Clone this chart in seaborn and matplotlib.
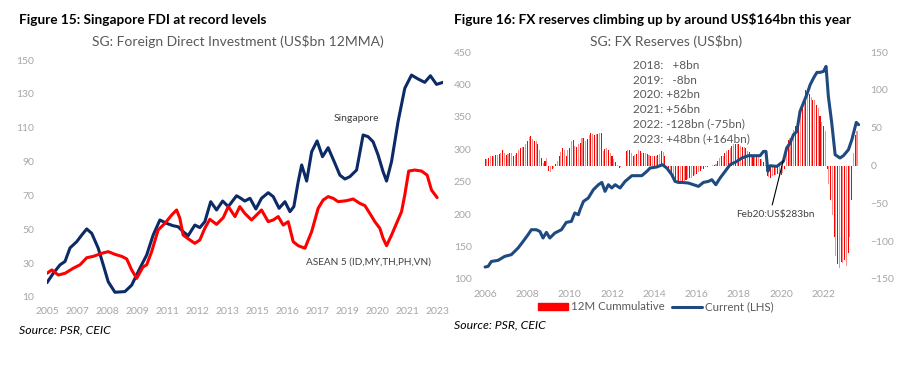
import numpy as np
import pandas as pd
import matplotlib
matplotlib.use('Agg')
import matplotlib.pyplot as plt
from matplotlib.patches import Patch
from matplotlib.lines import Line2D
import seaborn as sns

# ---- Figure 15: FDI (US$bn 12MMA) ----
sg_year = [2005.0, 2005.29, 2005.60, 2005.83, 2006.06, 2006.37, 2006.60, 2006.83, 2007.06, 2007.36,
           2007.59, 2007.82, 2008.13, 2008.59, 2008.90, 2009.28, 2009.59, 2009.89, 2010.20, 2010.51,
           2010.81, 2011.04, 2011.27, 2011.50, 2011.81, 2012.04, 2012.27, 2012.54, 2012.81, 2013.09,
           2013.35, 2013.73, 2013.88, 2014.11, 2014.35, 2014.62, 2014.88, 2015.19, 2015.42, 2015.69,
           2015.96, 2016.19, 2016.37, 2016.57, 2016.73, 2016.96, 2017.19, 2017.44, 2017.69, 2017.95,
           2018.26, 2018.49, 2018.72, 2018.95, 2019.26, 2019.56, 2019.79, 2020.02, 2020.25, 2020.48,
           2020.64, 2020.87, 2021.17, 2021.48, 2021.79, 2022.09, 2022.40, 2022.66, 2022.94, 2023.24]
sg_val = [18.5, 24, 29, 31, 39, 42.7, 46.6, 50.2, 47.6, 38.8,
          29, 19, 12.8, 13.2, 17, 27, 34.8, 46.6, 55.5, 53.5,
          52.1, 51.5, 48.6, 46.2, 52.5, 51, 54.5, 66.3, 61.4, 66.7,
          63.4, 69.8, 68.7, 66.7, 68.3, 62, 68.3, 71.6, 69.3, 62.4,
          66.3, 60.4, 63.4, 78.1, 88, 78.5, 95.8, 102.2, 92.9, 98.2,
          89, 82, 79.7, 81.1, 85, 105.7, 104.7, 101.7, 93.9, 84,
          78.5, 90, 113.6, 133.3, 141.1, 138.8, 136.8, 140.7, 135.6, 136.8]

asean_year = [2005.0, 2005.22, 2005.52, 2005.83, 2006.21, 2006.52, 2006.83, 2007.13, 2007.52, 2007.82,
              2008.13, 2008.44, 2008.67, 2008.90, 2009.13, 2009.42, 2009.59, 2009.82, 2010.12, 2010.43,
              2010.74, 2010.97, 2011.12, 2011.27, 2011.58, 2011.81, 2012.04, 2012.27, 2012.50, 2012.81,
              2013.12, 2013.35, 2013.66, 2013.88, 2014.11, 2014.42, 2014.65, 2014.88, 2015.19, 2015.42,
              2015.65, 2015.88, 2016.11, 2016.34, 2016.57, 2016.88, 2017.19, 2017.49, 2017.72, 2017.95,
              2018.18, 2018.41, 2018.80, 2019.10, 2019.41, 2019.64, 2019.87, 2020.10, 2020.33, 2020.48,
              2020.64, 2020.87, 2021.10, 2021.33, 2021.48, 2021.66, 2021.94, 2022.25, 2022.51, 2022.71,
              2022.97]
asean_val = [24, 26, 23, 24, 27, 29, 33.2, 34, 35.8, 36.8,
             35.2, 34, 32.5, 26, 21, 27.7, 29, 36.8, 49.6, 53.5,
             58.4, 61.4, 56.5, 46.6, 43.7, 41.7, 43.7, 50.6, 55.9, 52.9,
             56.9, 63.4, 57.5, 63.4, 59.4, 55.5, 58.4, 61.4, 54.5, 55.5,
             57.5, 52.5, 54.5, 42.7, 40.3, 38.8, 48.6, 62.4, 67.3, 69.3,
             68.3, 66.3, 66.9, 67.9, 65.3, 64, 59.4, 54.5, 50.6, 44.7,
             40.3, 46.6, 53.5, 60.4, 70.3, 84.4, 85, 84.4, 82, 73.2,
             68.7]

fdi_tick_labels = ['2005', '2007', '2008', '2009', '2011', '2012', '2013',
                   '2015', '2016', '2017', '2019', '2020', '2021', '2023']

# ---- Figure 16: FX reserves (US$bn) ----
fx_year = [2006.0, 2006.14, 2006.30, 2006.61, 2006.93, 2007.24, 2007.56, 2007.80, 2008.03, 2008.19,
           2008.42, 2008.59, 2008.74, 2008.90, 2009.06, 2009.30, 2009.61, 2009.84, 2010.08, 2010.24,
           2010.41, 2010.49, 2010.65, 2010.88, 2011.12, 2011.36, 2011.52, 2011.67, 2011.83, 2011.99,
           2012.15, 2012.38, 2012.62, 2012.94, 2013.17, 2013.41, 2013.65, 2013.80, 2014.12, 2014.38,
           2014.59, 2014.83, 2014.98, 2015.14, 2015.30, 2015.61, 2015.85, 2016.09, 2016.32, 2016.56,
           2016.72, 2016.91, 2017.11, 2017.35, 2017.58, 2017.90, 2018.14, 2018.45, 2018.77, 2019.0,
           2019.16, 2019.28, 2019.37, 2019.48, 2019.79, 2020.10, 2020.26, 2020.42, 2020.58, 2020.74,
           2020.89, 2021.05, 2021.21, 2021.37, 2021.53, 2021.69, 2021.84, 2022.0, 2022.12, 2022.23,
           2022.39, 2022.55, 2022.78, 2022.94, 2023.18, 2023.34, 2023.55, 2023.66]
fx_val = [118.5, 119.4, 127.1, 128.7, 134.9, 137.5, 147.8, 158, 168.3, 176,
          176, 173.4, 163.2, 171.9, 163.2, 170.9, 176, 187.3, 188.8, 201.8,
          199.1, 206.8, 219.6, 224.9, 237.7, 245.4, 248.9, 235.1, 245.4, 240.3,
          245.4, 240.3, 250.5, 259.3, 259.3, 259.3, 266, 271.1, 272.7, 276.2,
          271.1, 260.8, 250.5, 248.9, 248.9, 248, 245.4, 242.8, 248.9, 250.5,
          253.1, 245.4, 255.7, 266, 276.2, 281.3, 286.6, 290.1, 290.1, 290.1,
          296.7, 296.7, 266, 274.7, 273.6, 281.3, 302, 309.7, 322.5, 327.6,
          358.4, 371.4, 384.2, 399.6, 409.9, 418.6, 418.6, 420.1, 427.8, 381.5,
          340.5, 291.6, 286.6, 290.1, 299.4, 314.8, 341.5, 337.9]

# 12M cumulative change, monthly from Jan 2006
fx_chg = [8, 9, 10, 12, 13, 13, 14, 14, 15, 17, 21, 16,
          14, 15, 17, 16, 12, 14, 17, 20, 23, 24, 25, 28,
          32, 38, 39, 35, 33, 32, 28, 20, 10, 3, 6, 10,
          -7, -8, -5, -3, 2, 6, 13, 18, 23, 20, 13, 20,
          23, 32, 34, 26, 25, 28, 30, 37, 36, 32, 35, 40,
          43, 41, 40, 42, 41, 43, 43, 19, 22, 23, 20, 16,
          12, 8, 5, 1, -3, -2, -1, -1, 19, 20, 21, 16,
          13, 14, 15, 21, 19, 17, 16, 16, 15, 14, 13, 12,
          13, 13, 14, 15, 19, 18, 12, -2, -5, -10, -15, -18,
          -21, -22, -23, -25, -24, -21, -19, -18, -17, -16, -14, -12,
          -11, -9, -7, -5, -4, -2, -2, -1, -1, 1, 1, 2,
          6, 10, 12, 13, 17, 19, 21, 23, 26, 29, 28, 28,
          28, 26, 25, 24, 23, 19, 18, 15, 14, 12, 12, 11,
          9, 8, 5, 1, -14, -15, -16, -14, -12, -12, -11, -12,
          -12, -10, -5, 21, 34, 36, 37, 47, 52, 60, 68, 76,
          82, 87, 100, 92, 95, 90, 87, 87, 80, 76, 65, 58,
          52, 45, -5, -25, -45, -65, -95, -120, -130, -135, -127, -129,
          -125, -133, -115, -94, -45, 17, 40, 45]
fx_month = 2006 + np.arange(len(fx_chg)) / 12

fx_notes = ['2018:   +8bn', '2019:   -8bn', '2020: +82bn', '2021: +56bn',
            '2022: -128bn (-75bn)', '2023: +48bn (+164bn)']

NAVY = '#0c2a66'
BLUE = '#1f4a80'
RED = '#ff0000'
GREY_TXT = '#595959'
TICK = '#a6a6a6'

sns.set_theme(style='white')
plt.rcParams['font.family'] = ['Lato', 'DejaVu Sans']

W, H = 913, 376
fig = plt.figure(figsize=(W / 100, H / 100), dpi=100)

def box(x0, y0, x1, y1):
    return [x0 / W, 1 - y1 / H, (x1 - x0) / W, (y1 - y0) / H]

# ---------------- left chart ----------------
ax1 = fig.add_axes(box(47, 60, 443, 297))
sns.lineplot(x=sg_year, y=sg_val, color=NAVY, lw=2.2, ax=ax1)
sns.lineplot(x=asean_year, y=asean_val, color=RED, lw=2.2, ax=ax1)
ax1.set_xlim(2005, 2023.24)
ax1.set_ylim(10, 150)
ax1.set_yticks(range(10, 151, 20))
ax1.set_xticks([2005 + k * 18 / 13 for k in range(len(fdi_tick_labels))])
ax1.set_xticklabels(fdi_tick_labels)
ax1.tick_params(length=0, labelsize=7.5, labelcolor=TICK)
ax1.tick_params(axis='x', pad=7)
ax1.tick_params(axis='y', pad=9)
sns.despine(ax=ax1, left=True, bottom=True)
ax1.text(2019.23, 115.5, 'Singapore', color='#404040', fontsize=7.5, ha='center', va='center')
ax1.text(2019.82, 30.7, 'ASEAN 5 (ID,MY,TH,PH,VN)', color='#404040', fontsize=7.2, ha='center', va='center')

# ---------------- right chart ----------------
ax2 = fig.add_axes(box(480, 52, 862, 279))
ax3 = ax2.twinx()
ax2.set_zorder(ax3.get_zorder() + 1)
ax2.patch.set_visible(False)

bar_cols = [RED if i % 2 == 0 else '#ff8a8a' for i in range(len(fx_chg))]
ax3.bar(fx_month, fx_chg, width=0.05, color=bar_cols, linewidth=0)
sns.lineplot(x=fx_year, y=fx_val, color=BLUE, lw=2.2, ax=ax2)

ax2.set_xlim(2005.76, 2023.82)
ax2.set_ylim(100, 450)
ax3.set_ylim(-150, 150)
ax2.set_yticks(range(100, 451, 50))
ax3.set_yticks(range(-150, 151, 50))
ax2.set_xticks(range(2006, 2023, 2))
for a in (ax2, ax3):
    a.tick_params(length=0, labelsize=7.5, labelcolor=TICK)
    a.grid(False)
    for s in a.spines.values():
        s.set_visible(False)
ax2.tick_params(axis='x', pad=8)
ax2.tick_params(axis='y', pad=6)
ax3.tick_params(axis='y', pad=6)

ax2.annotate('Feb20:US$283bn', xy=(2020.1, 283), xycoords='data',
             xytext=(775, H - 214), textcoords='figure pixels',
             ha='center', va='center', fontsize=7.3, color='#404040',
             arrowprops=dict(arrowstyle='-', color='black', lw=0.8, relpos=(0.45, 1.0),
                             shrinkA=1, shrinkB=0))

fig.text(633 / W, 1 - 60 / H, '\n'.join(fx_notes), ha='left', va='top',
         fontsize=8.5, color=GREY_TXT, linespacing=1.4)

handles = [Patch(color=RED), Line2D([], [], color=BLUE, lw=2.2)]
fig.legend(handles, ['12M Cummulative', 'Current (LHS)'], loc='center',
           bbox_to_anchor=(656 / W, 1 - 307 / H), ncol=2, frameon=False,
           fontsize=8.3, handlelength=2.6, handleheight=0.6, handletextpad=0.3,
           columnspacing=0.6, labelcolor=GREY_TXT)

# ---------------- titles ----------------
fig.text(19 / W, 1 - 20 / H, 'Figure 15: Singapore FDI at record levels',
         fontsize=9.8, fontweight='bold', va='center', color='black')
fig.text(454 / W, 1 - 20 / H, 'Figure 16: FX reserves climbing up by around US$164bn this year',
         fontsize=9.8, fontweight='bold', va='center', color='black')
fig.text(238 / W, 1 - 42 / H, 'SG: Foreign Direct Investment (US$bn 12MMA)',
         fontsize=10, ha='center', va='center', color=GREY_TXT)
fig.text(666 / W, 1 - 42 / H, 'SG: FX Reserves (US$bn)',
         fontsize=10, ha='center', va='center', color=GREY_TXT)
fig.text(19 / W, 1 - 330 / H, 'Source: PSR, CEIC', fontsize=8.8, style='italic',
         va='center', color='black')
fig.text(454 / W, 1 - 325 / H, 'Source: PSR, CEIC', fontsize=8.8, style='italic',
         va='center', color='black')

fig.savefig('out.png', dpi=100, facecolor='white')
